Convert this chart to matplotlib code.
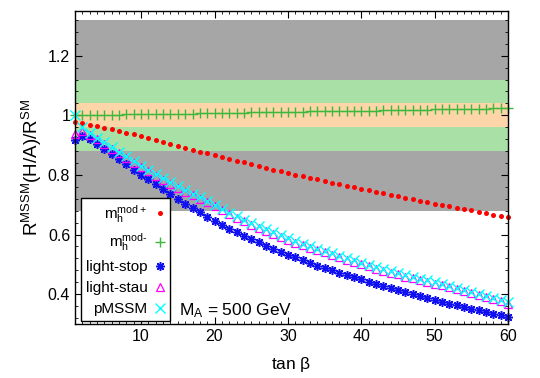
import numpy as np
import matplotlib
matplotlib.use('Agg')
import matplotlib.pyplot as plt
from matplotlib.ticker import MultipleLocator, FuncFormatter

plt.rcParams['font.family'] = ['Liberation Sans', 'DejaVu Sans']
plt.rcParams['mathtext.fontset'] = 'custom'
plt.rcParams['mathtext.rm'] = 'Liberation Sans'
plt.rcParams['mathtext.it'] = 'Liberation Sans:italic'

# tan(beta) = 1..60
tan_beta = np.arange(1, 61)

mh_mod_plus = [
    0.978, 0.974, 0.969, 0.964, 0.958, 0.953, 0.947, 0.942, 0.936, 0.930,
    0.924, 0.917, 0.911, 0.904, 0.898, 0.891, 0.885, 0.878, 0.872, 0.866,
    0.860, 0.854, 0.848, 0.842, 0.836, 0.830, 0.824, 0.818, 0.812, 0.806,
    0.801, 0.795, 0.790, 0.785, 0.780, 0.774, 0.769, 0.764, 0.759, 0.754,
    0.749, 0.744, 0.739, 0.734, 0.729, 0.724, 0.719, 0.714, 0.709, 0.704,
    0.699, 0.695, 0.690, 0.685, 0.681, 0.676, 0.671, 0.667, 0.662, 0.658]

mh_mod_minus = [
    1.000, 1.000, 1.001, 1.001, 1.002, 1.002, 1.002, 1.003, 1.003, 1.004,
    1.004, 1.004, 1.005, 1.005, 1.006, 1.006, 1.006, 1.007, 1.007, 1.008,
    1.008, 1.008, 1.009, 1.009, 1.010, 1.010, 1.010, 1.011, 1.011, 1.012,
    1.012, 1.012, 1.013, 1.013, 1.014, 1.014, 1.014, 1.015, 1.015, 1.016,
    1.016, 1.016, 1.017, 1.017, 1.018, 1.018, 1.018, 1.019, 1.019, 1.020,
    1.020, 1.020, 1.021, 1.021, 1.022, 1.022, 1.022, 1.023, 1.023, 1.023]

light_stop = [
    0.916, 0.930, 0.920, 0.903, 0.886, 0.869, 0.852, 0.835, 0.818, 0.801,
    0.785, 0.768, 0.752, 0.736, 0.720, 0.704, 0.689, 0.674, 0.659, 0.645,
    0.632, 0.620, 0.608, 0.596, 0.585, 0.574, 0.563, 0.552, 0.542, 0.532,
    0.523, 0.514, 0.505, 0.496, 0.488, 0.480, 0.472, 0.464, 0.457, 0.450,
    0.442, 0.434, 0.427, 0.420, 0.413, 0.406, 0.400, 0.393, 0.387, 0.380,
    0.374, 0.368, 0.362, 0.357, 0.351, 0.346, 0.340, 0.335, 0.330, 0.322]

light_stau = [
    0.938, 0.946, 0.933, 0.919, 0.903, 0.888, 0.872, 0.857, 0.841, 0.826,
    0.812, 0.798, 0.784, 0.770, 0.757, 0.744, 0.732, 0.720, 0.708, 0.695,
    0.681, 0.668, 0.656, 0.644, 0.633, 0.622, 0.612, 0.602, 0.592, 0.582,
    0.573, 0.564, 0.556, 0.548, 0.540, 0.532, 0.524, 0.516, 0.508, 0.500,
    0.493, 0.486, 0.479, 0.472, 0.466, 0.459, 0.453, 0.447, 0.441, 0.435,
    0.429, 0.423, 0.416, 0.410, 0.403, 0.396, 0.390, 0.383, 0.376, 0.368]

pmssm = [
    1.000, 0.960, 0.942, 0.925, 0.909, 0.893, 0.878, 0.862, 0.847, 0.831,
    0.817, 0.803, 0.789, 0.775, 0.762, 0.749, 0.737, 0.725, 0.713, 0.700,
    0.686, 0.673, 0.661, 0.649, 0.638, 0.627, 0.617, 0.607, 0.597, 0.587,
    0.578, 0.569, 0.561, 0.553, 0.545, 0.537, 0.529, 0.521, 0.513, 0.505,
    0.498, 0.491, 0.484, 0.477, 0.471, 0.464, 0.458, 0.452, 0.446, 0.440,
    0.434, 0.428, 0.421, 0.415, 0.408, 0.401, 0.395, 0.388, 0.380, 0.372]

# bandas horizontales (min, max)
banda_gris = [0.68, 1.32]
banda_verde = [0.88, 1.12]
banda_naranja = [0.96, 1.04]

etiquetas = [r'$\mathregular{m_h^{mod+}}$', r'$\mathregular{m_h^{mod\text{-}}}$',
             'light-stop', 'light-stau', 'pMSSM']

fig = plt.figure(figsize=(5.4, 3.78), dpi=100)
ax = fig.add_axes([0.139, 0.143, 0.802, 0.828])

ax.axhspan(banda_gris[0], banda_gris[1], color='#a6a6a6', lw=0, zorder=0)
ax.axhspan(banda_verde[0], banda_verde[1], color='#a8e0a6', lw=0, zorder=0)
ax.axhspan(banda_naranja[0], banda_naranja[1], color='#fdd5a8', lw=0, zorder=0)

ax.plot(tan_beta, mh_mod_plus, ls='none', marker='o', ms=3.6, mfc='red',
        mec='red', mew=0, label=etiquetas[0], clip_on=False, zorder=3)
ax.plot(tan_beta, mh_mod_minus, ls='none', marker='+', ms=7.5, color='#3cb83c',
        mew=1.0, label=etiquetas[1], clip_on=False, zorder=3)
ax.plot(tan_beta, light_stop, ls='none', marker=(8, 2, 0), ms=6.3, color='#1010f0',
        mew=1.1, label=etiquetas[2], clip_on=False, zorder=3)
ax.plot(tan_beta, light_stau, ls='none', marker='^', ms=5.5, mfc='none',
        mec='#ff00ff', mew=0.9, label=etiquetas[3], clip_on=False, zorder=3)
ax.plot(tan_beta, pmssm, ls='none', marker='x', ms=6.5, color='#00ffff',
        mew=1.0, label=etiquetas[4], clip_on=False, zorder=3)

ax.set_xlim(1, 60)
ax.set_ylim(0.3, 1.35)
ax.xaxis.set_major_locator(MultipleLocator(10))
ax.xaxis.set_minor_locator(MultipleLocator(1))
ax.yaxis.set_major_locator(MultipleLocator(0.2))
ax.yaxis.set_minor_locator(MultipleLocator(0.04))
ax.yaxis.set_major_formatter(FuncFormatter(lambda v, p: '%g' % round(v, 2)))
ax.tick_params(which='both', direction='in', top=True, right=True, labelsize=11.5)
ax.tick_params(which='major', length=5, width=0.8)
ax.tick_params(which='minor', length=2.5, width=0.6)
for s in ax.spines.values():
    s.set_linewidth(1.0)
    s.set_zorder(5)

ax.set_xlabel(r'tan $\mathregular{\beta}$', fontsize=12.5, labelpad=8)
ax.set_ylabel(r'$\mathregular{R^{MSSM}(H/A)/R^{SM}}$', fontsize=13.5, labelpad=3)

ax.text(0.24, 0.029, r'$\mathregular{M_A}$ = 500 GeV', transform=ax.transAxes,
        fontsize=12.5, va='baseline', ha='left')

leg = ax.legend(loc='lower left', bbox_to_anchor=(0.0136, 0.0105), borderaxespad=0,
                markerfirst=False, fontsize=11, handlelength=0.8, handletextpad=0.4,
                labelspacing=0.45, borderpad=0.3, fancybox=False, framealpha=1,
                edgecolor='black')
leg.get_frame().set_linewidth(1.0)
leg.set_zorder(6)
# alinear a la derecha como en gnuplot
for col in leg._legend_handle_box.get_children():
    col.align = 'right'

fig.savefig('out.png', dpi=100)
